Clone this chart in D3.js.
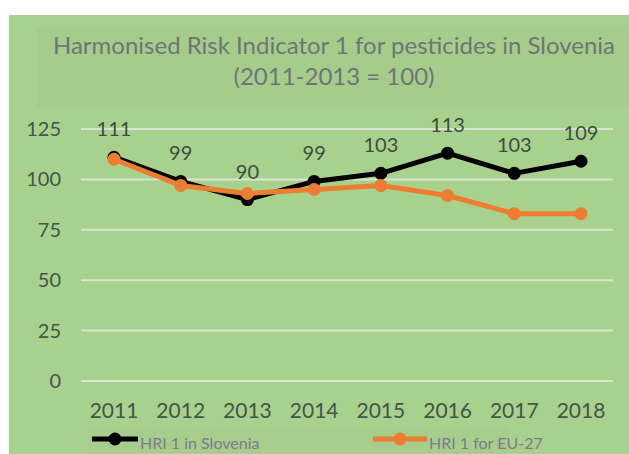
<!DOCTYPE html>
<html>
<head>
<meta charset="utf-8">
<title>HRI 1 Slovenia</title>
<script src="https://cdn.jsdelivr.net/npm/d3@7"></script>
<style>
  body { margin: 0; background: #fff; }
  svg text { font-family: Lato, "Open Sans", sans-serif; }
</style>
</head>
<body>
<svg id="chart" width="629" height="454"></svg>
<script>
  // data
  var years = ["2011", "2012", "2013", "2014", "2015", "2016", "2017", "2018"];
  var slovenia = [111, 99, 90, 99, 103, 113, 103, 109];
  var eu27 = [110, 97, 93, 95, 97, 92, 83, 83];
  var yTicks = [0, 25, 50, 75, 100, 125];
  var titleLines = ["Harmonised Risk Indicator 1 for pesticides in Slovenia", "(2011-2013 = 100)"];
  var seriesNames = ["HRI 1 in Slovenia", "HRI 1 for EU-27"];

  var svg = d3.select("#chart");

  // backgrounds
  svg.append("rect").attr("x", 9).attr("y", 15).attr("width", 620).attr("height", 439).style("fill", "#a9d18e");
  svg.append("rect").attr("x", 37).attr("y", 27).attr("width", 592).attr("height", 80).style("fill", "#a6cc8b");
  svg.append("rect").attr("x", 88).attr("y", 428).attr("width", 420).attr("height", 26).style("fill", "#a7cd8c");

  // title
  var title = svg.append("text")
    .attr("text-anchor", "middle")
    .style("font-size", "24px")
    .style("fill", "#6e7574");
  title.selectAll("tspan").data(titleLines).enter().append("tspan")
    .attr("x", 334)
    .attr("y", function(d, i) { return 54 + i * 31; })
    .text(function(d) { return d; });

  var x = d3.scalePoint().domain(years).range([114, 581]);
  var y = d3.scaleLinear().domain([0, 125]).range([381, 129]);

  // gridlines
  svg.selectAll(".grid").data(yTicks).enter().append("line")
    .attr("x1", 81).attr("x2", 613)
    .attr("y1", function(d) { return y(d); })
    .attr("y2", function(d) { return y(d); })
    .style("stroke", "#d9e3d2")
    .style("stroke-width", 2);

  // y labels
  svg.selectAll(".ylab").data(yTicks).enter().append("text")
    .attr("x", 61)
    .attr("y", function(d) { return y(d) + 7; })
    .attr("text-anchor", "end")
    .style("font-size", "20px")
    .style("fill", "#44544a")
    .text(function(d) { return d; });

  // x labels
  svg.selectAll(".xlab").data(years).enter().append("text")
    .attr("x", function(d) { return x(d); })
    .attr("y", 418)
    .attr("text-anchor", "middle")
    .style("font-size", "21px")
    .style("fill", "#44544a")
    .text(function(d) { return d; });

  var line = d3.line()
    .x(function(d, i) { return x(years[i]); })
    .y(function(d) { return y(d); });

  function drawSeries(vals, color) {
    svg.append("path").datum(vals)
      .attr("d", line)
      .style("fill", "none")
      .style("stroke", color)
      .style("stroke-width", 5)
      .style("stroke-linejoin", "round");
    svg.selectAll(null).data(vals).enter().append("circle")
      .attr("cx", function(d, i) { return x(years[i]); })
      .attr("cy", function(d) { return y(d); })
      .attr("r", 6.5)
      .style("fill", color);
  }
  drawSeries(slovenia, "#000000");
  drawSeries(eu27, "#ed7d31");

  // data labels for Slovenia
  svg.selectAll(".dlab").data(slovenia).enter().append("text")
    .attr("x", function(d, i) { return x(years[i]); })
    .attr("y", function(d) { return y(d) - 21; })
    .attr("text-anchor", "middle")
    .style("font-size", "20px")
    .style("fill", "#3d4d42")
    .text(function(d) { return d; });

  // legend
  var legend = [
    { name: seriesNames[0], color: "#000000", x1: 92, x2: 138 },
    { name: seriesNames[1], color: "#ed7d31", x1: 373, x2: 427 }
  ];
  legend.forEach(function(l) {
    svg.append("line")
      .attr("x1", l.x1).attr("x2", l.x2)
      .attr("y1", 439).attr("y2", 439)
      .style("stroke", l.color).style("stroke-width", 5);
    svg.append("circle")
      .attr("cx", (l.x1 + l.x2) / 2).attr("cy", 439).attr("r", 6.5)
      .style("fill", l.color);
    svg.append("text")
      .attr("x", l.x2 + 2).attr("y", 449)
      .style("font-size", "16px")
      .style("fill", "#7c7a8c")
      .text(l.name);
  });
</script>
</body>
</html>
